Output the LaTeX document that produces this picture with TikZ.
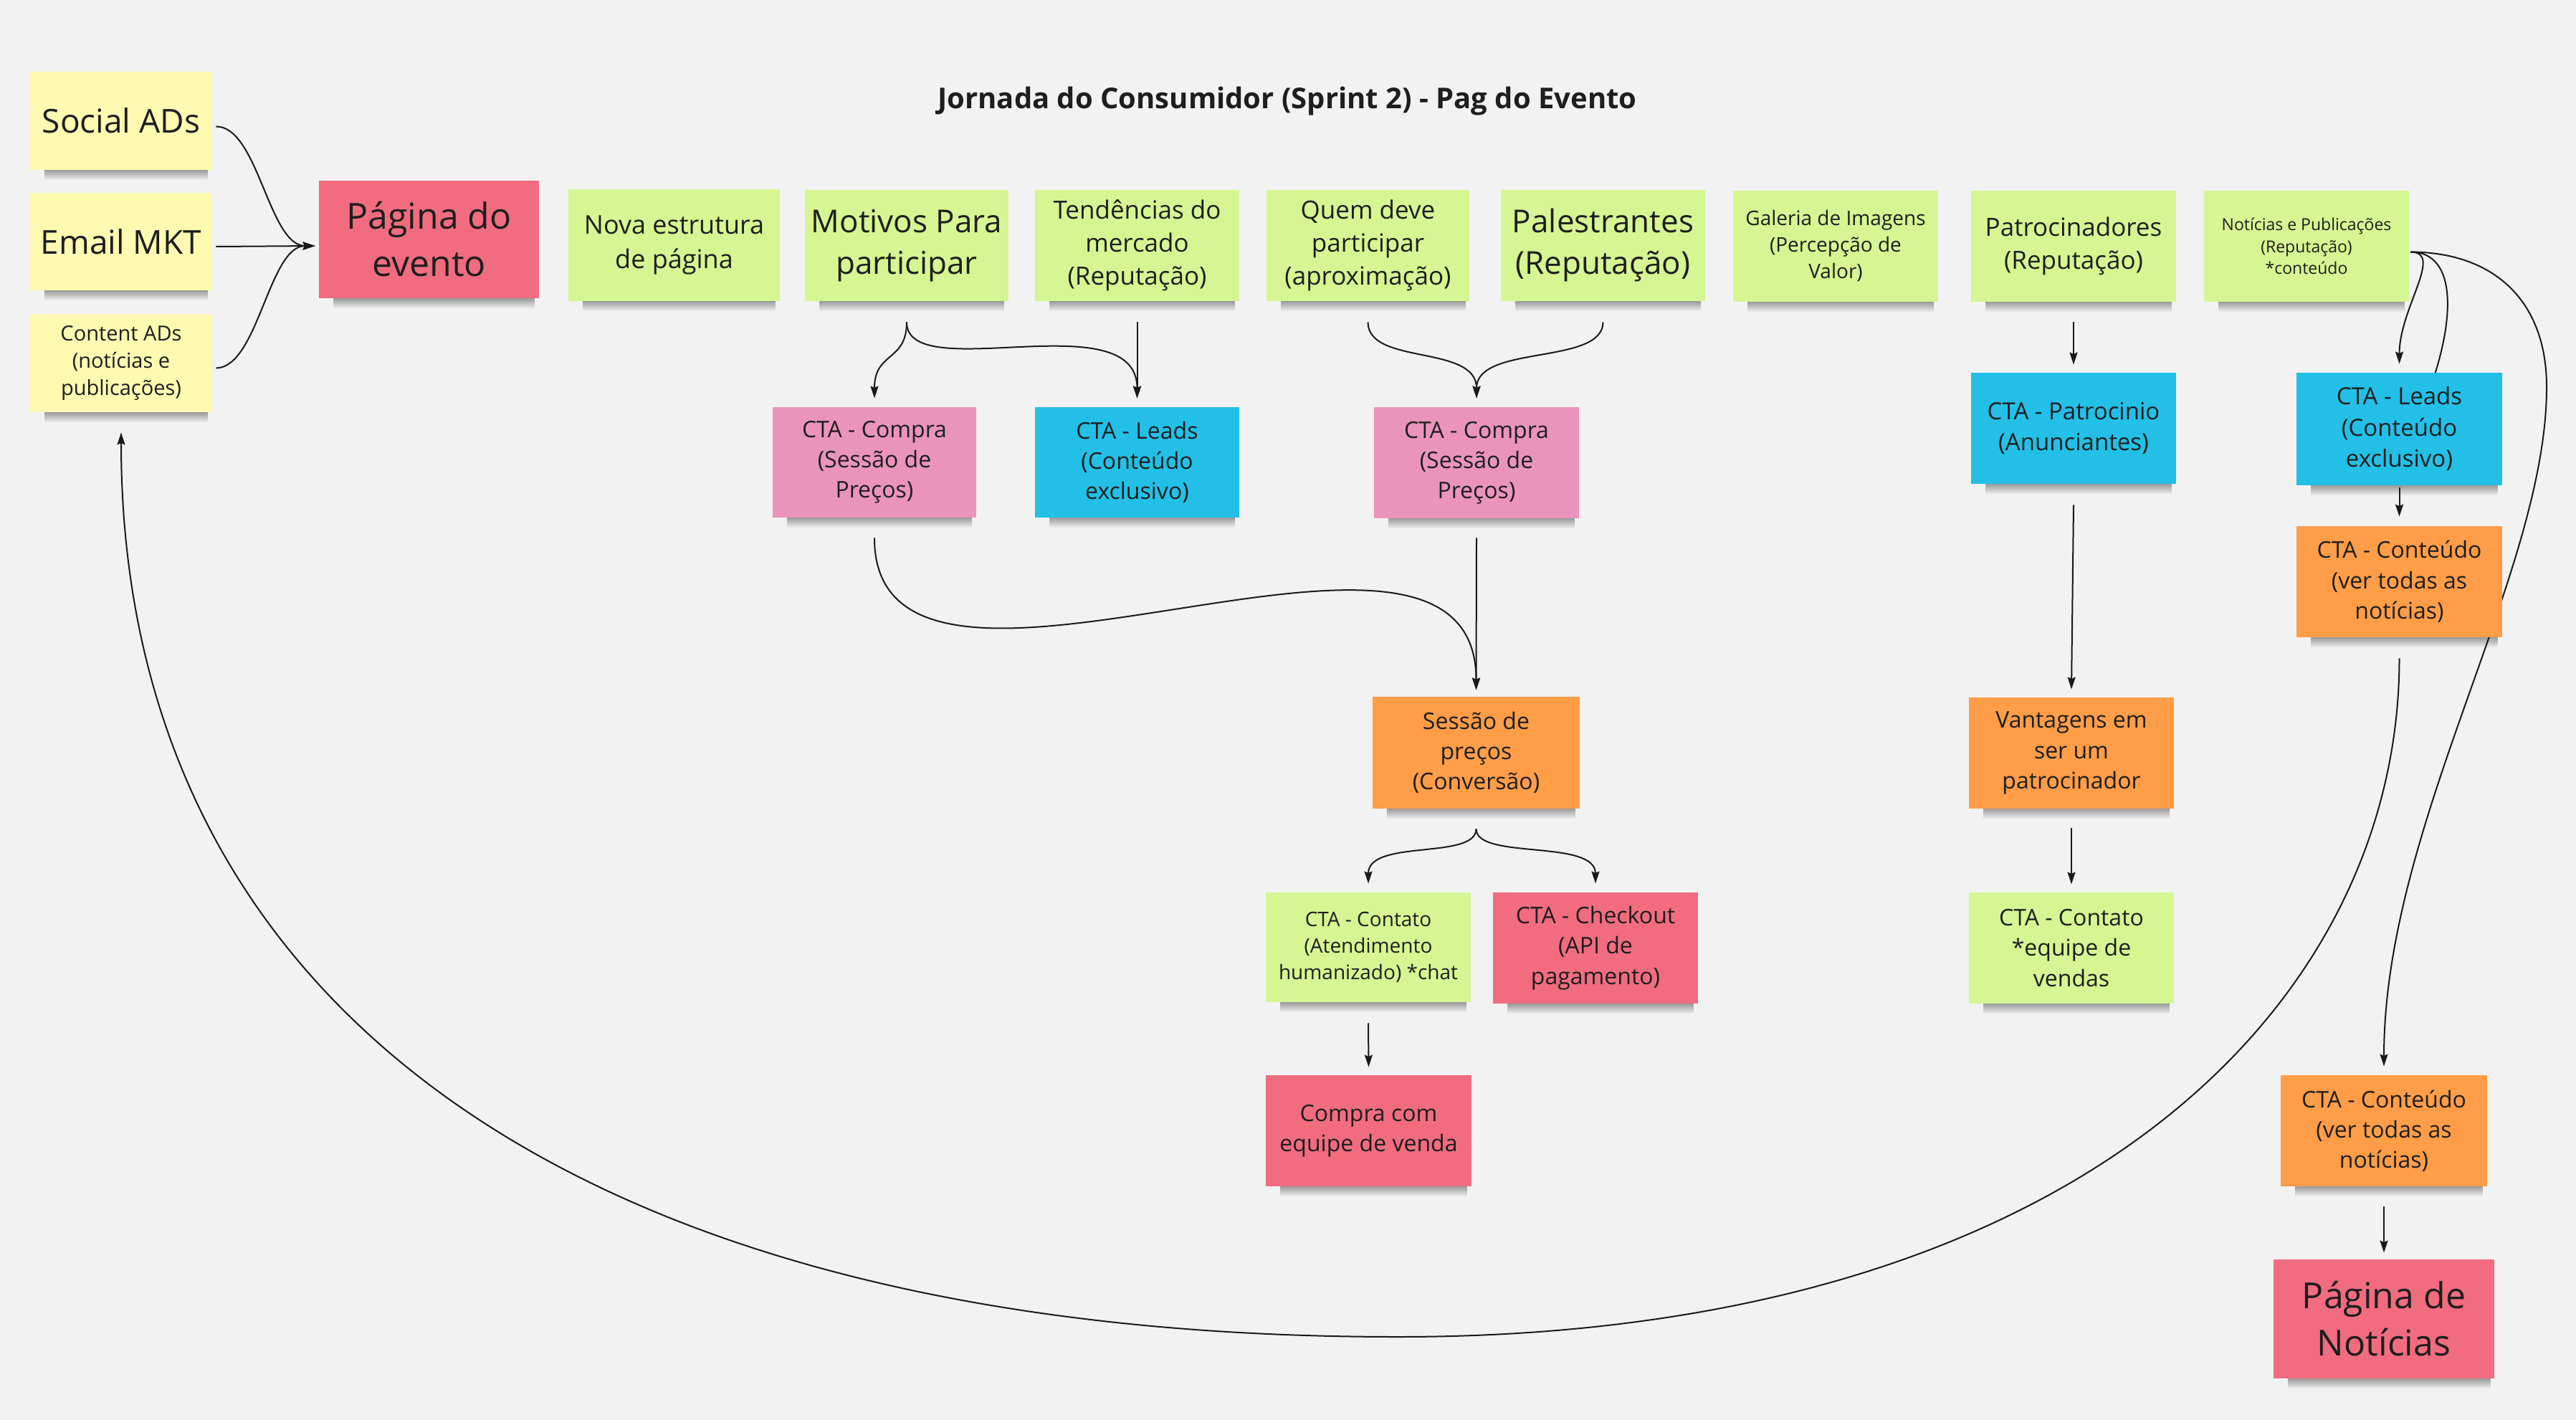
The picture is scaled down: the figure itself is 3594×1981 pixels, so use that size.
\documentclass[tikz,border=0pt]{standalone}
\usepackage{fontspec}
\setmainfont{Open Sans}
\usetikzlibrary{arrows.meta,calc,fadings}
\definecolor{cBg}{HTML}{F2F2F2}
\definecolor{cYel}{HTML}{FFF9B1}
\definecolor{cGrn}{HTML}{D5F692}
\definecolor{cPnk}{HTML}{EA94BB}
\definecolor{cRed}{HTML}{F16C7F}
\definecolor{cBlu}{HTML}{23BFE7}
\definecolor{cOrg}{HTML}{FF9D48}
\definecolor{cTxt}{HTML}{1E1E1E}
\definecolor{cLine}{HTML}{1A1A1A}
\pgfdeclarelayer{bgl}\pgfdeclarelayer{shl}\pgfdeclarelayer{edl}
\pgfsetlayers{bgl,shl,edl,main}
\tikzfading[name=shfade, top color=transparent!0, bottom color=transparent!100]
\newcommand\fpx[1]{\fontsize{\dimexpr #1pt/2\relax}{\dimexpr #1pt*66/100\relax}\selectfont}
\tikzset{
  notebox/.style={draw=none, inner sep=0pt, align=center, text=cTxt},
  conn/.style={draw=cLine, line width=1pt, -{Stealth[length=8.5pt,width=5.5pt,inset=1.2pt]}},
  plainline/.style={draw=cLine, line width=1pt},
}
\newcommand\sticky[8]{%
  \node[notebox, fill=#6, minimum width={(#4-#2)*0.5pt}, minimum height={(#5-#3)*0.5pt}, font=\fpx{#7}] (#1) at ({(#2+#4)/2},{(#3+#5)/2}) {#8};
  \begin{pgfonlayer}{shl}
    \fill[black, opacity=0.5, path fading=shfade] ($(#1.south west)+(20,-6)$) rectangle ($(#1.south east)+(-6,14)$);
  \end{pgfonlayer}}
\begin{document}
\begin{tikzpicture}[x=0.5pt,y=-0.5pt]
\useasboundingbox (0,0) rectangle (3594,1981);
\begin{pgfonlayer}{bgl}
\fill[cBg] (0,0) rectangle (3594,1981);
\end{pgfonlayer}

\node[font=\fpx{40}\bfseries, text=cTxt] (title) at (1796,141) {Jornada do Consumidor (Sprint 2) - Pag do Evento};

\sticky{social}{42}{100}{296}{237}{cYel}{46}{Social ADs}
\sticky{email}{42}{269}{296}{405}{cYel}{46}{Email MKT}
\sticky{content}{42}{438}{296}{575}{cYel}{29}{Content ADs\\(notícias e\\publicações)}
\sticky{pagina}{445}{252}{752}{416}{cRed}{50}{Página do\\evento}

\sticky{nova}{793}{264}{1088}{420}{cGrn}{36}{Nova estrutura\\de página}
\sticky{motivos}{1123}{265}{1407}{420}{cGrn}{44}{Motivos Para\\participar}
\sticky{tend}{1444}{265}{1729}{420}{cGrn}{35}{Tendências do\\mercado\\(Reputação)}
\sticky{quem}{1767}{265}{2050}{420}{cGrn}{35}{Quem deve\\participar\\(aproximação)}
\sticky{pal}{2094}{265}{2379}{420}{cGrn}{44}{Palestrantes\\(Reputação)}
\sticky{gal}{2418}{266}{2704}{421}{cGrn}{28}{Galeria de Imagens\\(Percepção de\\Valor)}
\sticky{patr}{2750}{266}{3036}{421}{cGrn}{35}{Patrocinadores\\(Reputação)}
\sticky{noti}{3075}{266}{3361}{421}{cGrn}{23}{Notícias e Publicações\\(Reputação)\\*conteúdo}

\sticky{compra1}{1078}{568}{1362}{722}{cPnk}{32}{CTA - Compra\\(Sessão de\\Preços)}
\sticky{leads1}{1444}{568}{1729}{722}{cBlu}{32}{CTA - Leads\\(Conteúdo\\exclusivo)}
\sticky{compra2}{1917}{568}{2203}{723}{cPnk}{32}{CTA - Compra\\(Sessão de\\Preços)}
\sticky{patroc}{2750}{520}{3036}{675}{cBlu}{33}{CTA - Patrocinio\\(Anunciantes)}
\sticky{leads2}{3204}{520}{3491}{677}{cBlu}{33}{CTA - Leads\\(Conteúdo\\exclusivo)}
\sticky{cont1}{3204}{734}{3491}{889}{cOrg}{32}{CTA - Conteúdo\\(ver todas as\\notícias)}

\sticky{sessao}{1915}{972}{2204}{1128}{cOrg}{32}{Sessão de\\preços\\(Conversão)}
\sticky{vant}{2747}{973}{3033}{1128}{cOrg}{32}{Vantagens em\\ser um\\patrocinador}

\sticky{chat}{1766}{1245}{2052}{1398}{cGrn}{28}{CTA - Contato\\(Atendimento\\humanizado) *chat}
\sticky{checkout}{2083}{1245}{2369}{1400}{cRed}{32}{CTA - Checkout\\(API de\\pagamento)}
\sticky{contatoeq}{2747}{1245}{3033}{1400}{cGrn}{32}{CTA - Contato\\*equipe de\\vendas}
\sticky{compraeq}{1766}{1500}{2053}{1655}{cRed}{32}{Compra com\\equipe de venda}
\sticky{cont2}{3182}{1500}{3470}{1655}{cOrg}{32}{CTA - Conteúdo\\(ver todas as\\notícias)}
\sticky{pagnot}{3172}{1757}{3480}{1923}{cRed}{50}{Página de\\Notícias}

\begin{pgfonlayer}{edl}
% sources -> pagina
\draw[conn] ($(social.east)+(5,8)$) .. controls (360,176) and (375,343) .. ($(pagina.west)+(-5,9)$);
\draw[conn] ($(email.east)+(5,7)$) -- ($(pagina.west)+(-5,9)$);
\draw[conn] ($(content.east)+(5,7)$) .. controls (360,513) and (375,343) .. ($(pagina.west)+(-5,9)$);
% motivos / tendencias
\draw[conn] ($(motivos.south)+(0,29)$) .. controls (1265,505) and (1220,490) .. ($(compra1.north)+(0,-12)$);
\draw[conn] ($(motivos.south)+(0,29)$) .. controls (1265,540) and (1586.5,420) .. ($(leads1.north)+(0,-12)$);
\draw[conn] ($(tend.south)+(0,29)$) -- ($(leads1.north)+(0,-12)$);
% quem / palestrantes
\draw[conn] ($(quem.south)+(0,29)$) .. controls (1908.5,510) and (2060,480) .. ($(compra2.north)+(0,-12)$);
\draw[conn] ($(pal.south)+(0,29)$) .. controls (2236.5,510) and (2060,480) .. ($(compra2.north)+(0,-12)$);
% compras -> sessao
\draw[conn] ($(compra1.south)+(0,28)$) .. controls (1220,1080) and (2059.5,620) .. ($(sessao.north)+(0,-9)$);
\draw[conn] ($(compra2.south)+(0,27)$) -- ($(sessao.north)+(0,-9)$);
% sessao -> chat / checkout
\draw[conn] ($(sessao.south)+(0,28)$) .. controls (2059.5,1200) and (1909,1170) .. ($(chat.north)+(0,-12)$);
\draw[conn] ($(sessao.south)+(0,28)$) .. controls (2059.5,1200) and (2226,1170) .. ($(checkout.north)+(0,-12)$);
\draw[conn] ($(chat.south)+(0,29)$) -- ($(compraeq.north)+(0,-11)$);
% patrocinadores chain
\draw[conn] ($(patr.south)+(0,28)$) -- ($(patroc.north)+(0,-11)$);
\draw[conn] ($(patroc.south)+(0,29)$) -- ($(vant.north)+(0,-11)$);
\draw[conn] ($(vant.south)+(0,27)$) -- ($(contatoeq.north)+(0,-11)$);
% noticias
\draw[conn] ($(noti.east)+(2,8)$) .. controls (3410,352) and (3347.5,430) .. ($(leads2.north)+(0,-12)$);
\draw[plainline] ($(noti.east)+(2,8)$) .. controls (3430,352) and (3425,450) .. ($(leads2.north)+(40,30)$);
\draw[conn] ($(noti.east)+(2,8)$) .. controls (3480,352) and (3553,420) .. (3553,540) .. controls (3553,800) and (3326,1150) .. ($(cont2.north)+(0,-12)$);
\draw[conn] ($(leads2.south)+(0,3)$) -- ($(cont1.north)+(0,-13)$);
\draw[conn] ($(cont2.south)+(0,28)$) -- ($(pagnot.north)+(0,-9)$);
% big return arc
\draw[conn] ($(cont1.south)+(0,29)$) .. controls (3347.5,1400) and (2900,1865) .. (1950,1865) .. controls (800,1865) and (169,1400) .. ($(content.south)+(0,28)$);
\end{pgfonlayer}
\end{tikzpicture}
\end{document}
